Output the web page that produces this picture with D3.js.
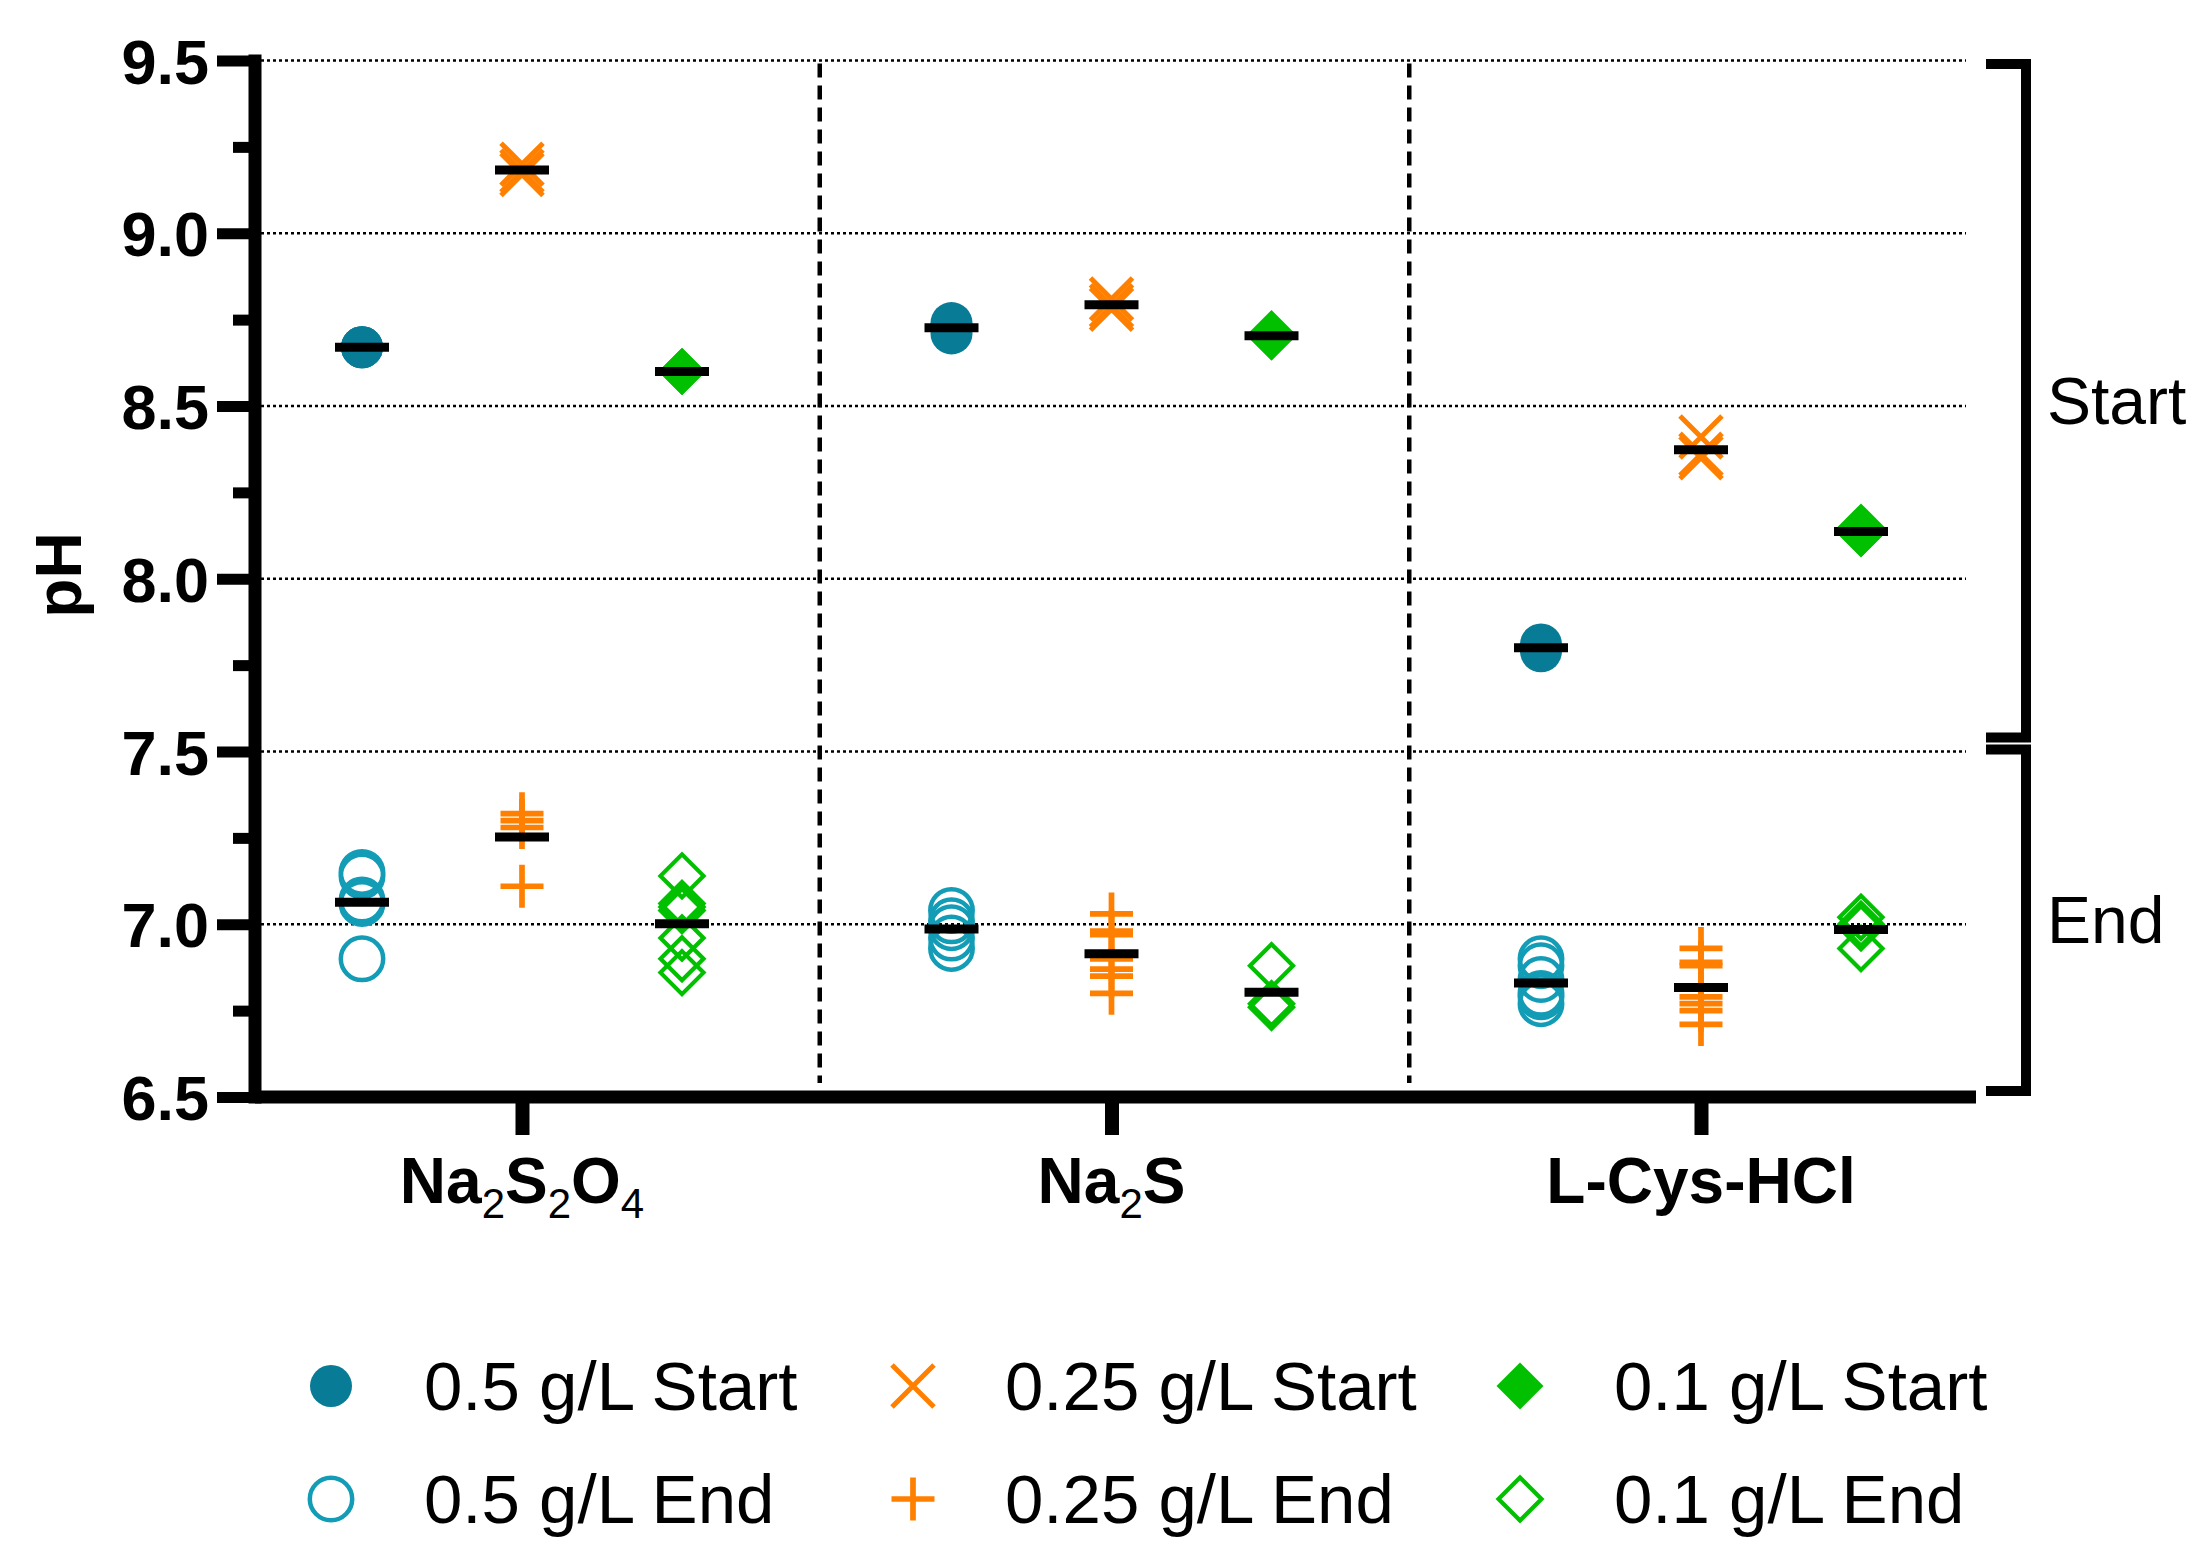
<!DOCTYPE html>
<html>
<head>
<meta charset="utf-8">
<script src="https://cdn.jsdelivr.net/npm/d3@7"></script>
<style>
  html, body { margin: 0; padding: 0; background: #fff; }
  svg { display: block; }
  text { font-family: "Liberation Sans", Arial, sans-serif; }
</style>
</head>
<body>
<svg id="chart" width="2210" height="1556"></svg>
<script>
// ---------------- DATA ----------------
const categories = ["Na2S2O4", "Na2S", "L-Cys-HCl"];
const categoryLabelParts = [
  [["Na", 0], ["2", 1], ["S", 0], ["2", 1], ["O", 0], ["4", 1]],
  [["Na", 0], ["2", 1], ["S", 0]],
  [["L-Cys-HCl", 0]]
];
const concentrations = ["0.5 g/L", "0.25 g/L", "0.1 g/L"];
const phases = ["Start", "End"];

// values per category (Na2S2O4, Na2S, L-Cys-HCl)
const start05  = [[8.67, 8.67, 8.67], [8.74, 8.73, 8.71], [7.81, 7.80, 7.79]];
const start025 = [[9.20, 9.18, 9.17], [8.81, 8.79, 8.78], [8.41, 8.36, 8.35]];
const start01  = [[8.60, 8.60, 8.60], [8.71, 8.70, 8.70], [8.15, 8.13, 8.13]];
const end05    = [[7.15, 7.14, 7.07, 7.06, 6.90],
                  [7.04, 7.01, 6.99, 6.96, 6.93],
                  [6.90, 6.88, 6.84, 6.80, 6.79, 6.77]];
const end025   = [[7.32, 7.30, 7.28, 7.11],
                  [7.03, 6.98, 6.97, 6.90, 6.87, 6.85, 6.80],
                  [6.93, 6.89, 6.88, 6.79, 6.77, 6.75, 6.71]];
const end01    = [[7.14, 7.06, 7.05, 7.04, 6.96, 6.90, 6.86],
                  [6.88, 6.77, 6.76],
                  [7.02, 7.00, 6.99, 6.93]];

const yTicks = [6.5, 7.0, 7.5, 8.0, 8.5, 9.0, 9.5];
const yTickLabels = ["6.5", "7.0", "7.5", "8.0", "8.5", "9.0", "9.5"];
const yMinorTicks = [6.75, 7.25, 7.75, 8.25, 8.75, 9.25];
const gridValues = [7.0, 7.5, 8.0, 8.5, 9.0, 9.5];
const yTitle = "pH";
const bracketLabels = ["Start", "End"];

// ---------------- STYLE TABLE ----------------
const colors = { c05s: "#087b96", c05e: "#139cb6", c025: "#ff8000", c01: "#00c000" };
const series = [
  { name: "0.5 g/L Start",  conc: 0, phase: 0, values: start05,  sym: "circleFilled" },
  { name: "0.25 g/L Start", conc: 1, phase: 0, values: start025, sym: "x" },
  { name: "0.1 g/L Start",  conc: 2, phase: 0, values: start01,  sym: "diamondFilled" },
  { name: "0.5 g/L End",    conc: 0, phase: 1, values: end05,    sym: "circleOpen" },
  { name: "0.25 g/L End",   conc: 1, phase: 1, values: end025,   sym: "plus" },
  { name: "0.1 g/L End",    conc: 2, phase: 1, values: end01,    sym: "diamondOpen" }
];

const FONT = '"Liberation Sans", Arial, sans-serif';
const svg = d3.select("#chart");

// ---------------- SCALES ----------------
const y = d3.scaleLinear().domain([6.5, 9.5]).range([1097, 60.5]);
const x = d3.scalePoint().domain(categories).range([522, 1701]);
const off = d3.scalePoint().domain(d3.range(concentrations.length)).range([-160, 160]);
const plotLeft = 255, gridRight = 1966, axisRight = 1976;

// ---------------- GRID ----------------
svg.append("g").selectAll("line").data(gridValues).join("line")
  .attr("x1", plotLeft).attr("x2", gridRight)
  .attr("y1", d => y(d)).attr("y2", d => y(d))
  .attr("stroke", "#000").attr("stroke-width", 2.5)
  .attr("stroke-dasharray", "3,3");

// category separators (dashed)
const seps = d3.pairs(categories).map(([a, b]) => (x(a) + x(b)) / 2 + 3);
svg.append("g").selectAll("line").data(seps).join("line")
  .attr("x1", d => d).attr("x2", d => d)
  .attr("y1", y(9.5) + 3).attr("y2", y(6.5) - 14)
  .attr("stroke", "#000").attr("stroke-width", 4.5)
  .attr("stroke-dasharray", "14,8");

// ---------------- MARKERS ----------------
function drawSymbol(g, sym, cx, cy) {
  if (sym === "circleFilled") {
    g.append("circle").attr("cx", cx).attr("cy", cy).attr("r", 21).attr("fill", colors.c05s);
  } else if (sym === "circleOpen") {
    g.append("circle").attr("cx", cx).attr("cy", cy).attr("r", 21.2)
      .attr("fill", "none").attr("stroke", colors.c05e).attr("stroke-width", 4.5);
  } else if (sym === "x") {
    const h = 21;
    g.append("path").attr("d", `M${cx - h},${cy - h}L${cx + h},${cy + h}M${cx + h},${cy - h}L${cx - h},${cy + h}`)
      .attr("stroke", colors.c025).attr("stroke-width", 5).attr("fill", "none");
  } else if (sym === "plus") {
    const h = 21.5;
    g.append("path").attr("d", `M${cx - h},${cy}H${cx + h}M${cx},${cy - h}V${cy + h}`)
      .attr("stroke", colors.c025).attr("stroke-width", 5.7).attr("fill", "none");
  } else if (sym === "diamondFilled") {
    const h = 23.5;
    g.append("path").attr("d", `M${cx},${cy - h}L${cx + h},${cy}L${cx},${cy + h}L${cx - h},${cy}Z`)
      .attr("fill", colors.c01);
  } else if (sym === "diamondOpen") {
    const h = 21.5;
    g.append("path").attr("d", `M${cx},${cy - h}L${cx + h},${cy}L${cx},${cy + h}L${cx - h},${cy}Z`)
      .attr("fill", "none").attr("stroke", colors.c01).attr("stroke-width", 4.2);
  }
}

const pts = svg.append("g");
series.forEach(s => {
  s.values.forEach((vals, ci) => {
    const cx = x(categories[ci]) + off(s.conc);
    vals.forEach(v => drawSymbol(pts, s.sym, cx, y(v)));
  });
});

// mean lines
const means = [];
series.forEach(s => s.values.forEach((vals, ci) => {
  means.push({ cx: x(categories[ci]) + off(s.conc), m: d3.mean(vals) });
}));
svg.append("g").selectAll("line").data(means).join("line")
  .attr("x1", d => d.cx - 27).attr("x2", d => d.cx + 27)
  .attr("y1", d => y(d.m)).attr("y2", d => y(d.m))
  .attr("stroke", "#000").attr("stroke-width", 9);

// ---------------- AXES ----------------
const yAxisG = svg.append("g").attr("transform", `translate(${plotLeft},0)`)
  .call(d3.axisLeft(y).tickValues(yTicks).tickSize(38).tickPadding(8)
    .tickFormat((d, i) => yTickLabels[i]));
yAxisG.select(".domain").remove();
yAxisG.selectAll(".tick line").attr("stroke", "#000").attr("stroke-width", 11);
yAxisG.selectAll(".tick text")
  .attr("font-family", FONT).attr("font-weight", "bold").attr("font-size", 63)
  .attr("fill", "#000").attr("dy", "0.36em");

const yMinorG = svg.append("g").attr("transform", `translate(${plotLeft},0)`)
  .call(d3.axisLeft(y).tickValues(yMinorTicks).tickSize(22).tickFormat(""));
yMinorG.select(".domain").remove();
yMinorG.selectAll(".tick line").attr("stroke", "#000").attr("stroke-width", 11);

// y axis line
svg.append("line").attr("x1", plotLeft).attr("x2", plotLeft)
  .attr("y1", y(9.5) - 6).attr("y2", y(6.5) + 6.5)
  .attr("stroke", "#000").attr("stroke-width", 13);

// x axis
const xAxisG = svg.append("g").attr("transform", `translate(0,${y(6.5)})`)
  .call(d3.axisBottom(x).tickSize(38).tickFormat(""));
xAxisG.select(".domain").remove();
xAxisG.selectAll(".tick line").attr("stroke", "#000").attr("stroke-width", 14);
svg.append("line").attr("x1", plotLeft).attr("x2", axisRight)
  .attr("y1", y(6.5)).attr("y2", y(6.5))
  .attr("stroke", "#000").attr("stroke-width", 13);

// category labels with subscripts
categories.forEach((c, i) => {
  const t = svg.append("text").attr("x", x(c)).attr("y", 1203)
    .attr("text-anchor", "middle").attr("font-family", FONT)
    .attr("font-size", 64).attr("font-weight", "bold").attr("fill", "#000");
  let shifted = false;
  categoryLabelParts[i].forEach(([txt, sub]) => {
    const sp = t.append("tspan").text(txt);
    if (sub) {
      sp.attr("font-size", 42).attr("font-weight", "normal").attr("dy", shifted ? 0 : 15);
      shifted = true;
    } else {
      if (shifted) sp.attr("dy", -15);
      shifted = false;
    }
  });
});

// y title
svg.append("text").attr("transform", "translate(81,575) rotate(-90)")
  .attr("text-anchor", "middle").attr("font-family", FONT)
  .attr("font-size", 64).attr("font-weight", "bold").attr("fill", "#000")
  .text(yTitle);

// ---------------- BRACKETS ----------------
const bx = 2026, bstub = 40;
const bracketRanges = [[y(9.5) + 3.5, y(7.5) - 14], [y(7.5) - 2, y(6.5) - 6]];
svg.append("g").selectAll("path").data(bracketRanges).join("path")
  .attr("d", d => `M${bx - bstub},${d[0]}H${bx}V${d[1]}H${bx - bstub}`)
  .attr("fill", "none").attr("stroke", "#000").attr("stroke-width", 10);
svg.append("g").selectAll("text").data(bracketLabels).join("text")
  .attr("x", 2047)
  .attr("y", (d, i) => (bracketRanges[i][0] + bracketRanges[i][1]) / 2 + 23)
  .attr("font-family", FONT).attr("font-size", 66).attr("fill", "#000")
  .text(d => d);

// ---------------- LEGEND ----------------
const legMarkerX = [331, 913, 1520];
const legTextX = [424, 1005, 1614];
const legRowY = [1386, 1499];
const leg = svg.append("g");
series.forEach(s => {
  const cy = legRowY[s.phase];
  drawSymbol(leg, s.sym, legMarkerX[s.conc], cy);
  leg.append("text").attr("x", legTextX[s.conc]).attr("y", cy + 24)
    .attr("font-family", FONT).attr("font-size", 69).attr("fill", "#000")
    .text(s.name);
});
</script>
</body>
</html>
